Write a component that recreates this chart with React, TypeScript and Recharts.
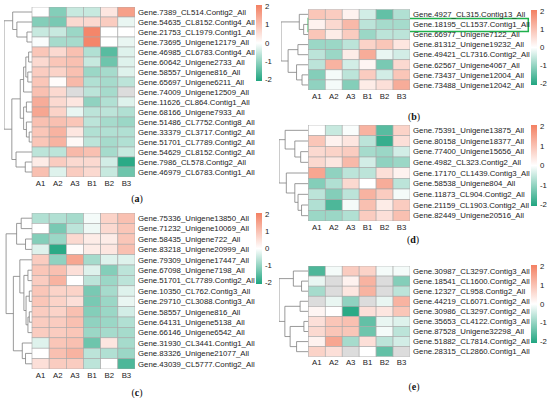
import React from "react";
import { ScatterChart, Scatter, XAxis, YAxis, ReferenceArea } from "recharts";

const samples = ["A1", "A2", "A3", "B1", "B2", "B3"];
const legendTicks = ["2", "1", "0", "-1", "-2"];

// (a)
const genesA = [
  "Gene.7389_CL514.Contig2_All", "Gene.54635_CL8152.Contig4_All", "Gene.21753_CL1979.Contig1_All",
  "Gene.73695_Unigene12179_All", "Gene.46985_CL6783.Contig4_All", "Gene.60642_Unigene2733_All",
  "Gene.58557_Unigene816_All", "Gene.65697_Unigene6211_All", "Gene.74009_Unigene12509_All",
  "Gene.11626_CL864.Contig1_All", "Gene.68166_Unigene7933_All", "Gene.51486_CL7752.Contig8_All",
  "Gene.33379_CL3717.Contig2_All", "Gene.51701_CL7789.Contig2_All", "Gene.54629_CL8152.Contig2_All",
  "Gene.7986_CL578.Contig2_All", "Gene.46979_CL6783.Contig1_All",
];
const valuesA = [
  [0.0, -1.1, -0.5, -0.5, 0.4, 1.5],
  [-1.1, -1.2, 0.6, 0.6, 0.8, -0.2],
  [-0.5, -0.5, -0.9, 1.9, 0.0, 0.0],
  [-0.05, -0.8, -0.8, 1.9, 0.0, -0.2],
  [0.9, 0.6, 1.0, -0.7, -1.5, -0.3],
  [0.6, 0.9, 1.0, -0.5, -1.3, -0.3],
  [0.8, 0.7, 1.0, -0.9, -0.8, -0.3],
  [0.9, 0.05, 1.1, -0.7, -0.8, -0.6],
  [1.0, 0.6, null, -0.6, -0.8, null],
  [1.3, 0.6, 0.4, -1.0, -0.7, -0.3],
  [1.4, 0.7, -0.2, -0.6, -0.6, -0.7],
  [1.0, 1.0, 0.9, -0.6, -0.8, -0.9],
  [0.9, 1.2, 0.4, -0.7, -0.7, -0.7],
  [0.9, 1.2, 0.1, -0.6, -0.8, -0.7],
  [-0.6, -0.6, 1.1, 1.0, -0.8, -0.5],
  [0.3, 0.8, 0.6, 0.6, -0.4, -1.9],
  [1.0, -0.3, 0.8, 0.6, -0.5, -1.3],
];
// hclust-style merges: negative = leaf (1-based row), positive = earlier merge; third = height
const mergeA = [
  [-3, -4, 0.18], [-2, 1, 0.54], [-1, 2, 0.69], [-5, -6, 0.12], [-7, -8, 0.15],
  [4, 5, 0.22], [6, -9, 0.3], [-10, -11, 0.2], [-13, -14, 0.1], [-12, 9, 0.2],
  [8, 10, 0.3], [7, 11, 0.42], [-16, -17, 0.24], [-15, 13, 0.57], [12, 14, 0.72], [3, 15, 1.0],
];

// (b)
const genesB = [
  "Gene.4927_CL315.Contig13_All", "Gene.18195_CL1537.Contig1_All", "Gene.66977_Unigene7122_All",
  "Gene.81312_Unigene19232_All", "Gene.49421_CL7316.Contig2_All", "Gene.62567_Unigene4067_All",
  "Gene.73437_Unigene12004_All", "Gene.73488_Unigene12042_All",
];
const valuesB = [
  [0.9, 0.8, 0.2, -0.4, -1.4, -0.7],
  [0.2, 0.6, 1.1, -0.6, -0.8, -0.8],
  [0.9, 0.3, 0.8, -0.9, -0.6, -0.6],
  [-0.9, -0.9, -0.6, 0.7, 0.9, 0.4],
  [-0.6, -0.9, 0.3, 1.3, -0.2, -0.4],
  [-0.6, 1.2, -0.4, 0.15, -1.2, 0.6],
  [-1.1, -0.1, -0.6, 0.8, -0.4, 0.9],
  [-1.0, -0.1, -1.1, 0.3, 0.5, 1.3],
];
const mergeB = [
  [-2, -3, 0.17], [-1, 1, 0.33], [-4, -5, 0.38], [-7, -8, 0.23], [-6, 4, 0.43], [3, 5, 0.74], [2, 6, 1.0],
];

// (c)
const genesC = [
  "Gene.75336_Unigene13850_All", "Gene.71232_Unigene10069_All", "Gene.58435_Unigene722_All",
  "Gene.83218_Unigene20999_All", "Gene.79309_Unigene17447_All", "Gene.67098_Unigene7198_All",
  "Gene.51701_CL7789.Contig2_All", "Gene.10350_CL762.Contig3_All", "Gene.29710_CL3088.Contig3_All",
  "Gene.58557_Unigene816_All", "Gene.64131_Unigene5138_All", "Gene.66146_Unigene6542_All",
  "Gene.31930_CL3441.Contig1_All", "Gene.83326_Unigene21077_All", "Gene.43039_CL5777.Contig2_All",
];
const valuesC = [
  [-0.7, -0.7, -0.8, -0.1, 0.7, 1.0],
  [0.0, -1.2, -0.6, -0.15, 0.6, 0.9],
  [-1.1, -0.9, 0.6, 0.3, 0.3, 0.9],
  [-0.3, -1.9, 0.05, 0.3, 0.4, 1.0],
  [0.8, -1.0, 1.4, -0.8, -0.3, -0.3],
  [0.9, 1.0, 0.5, -0.3, -1.1, -0.6],
  [0.8, 1.2, 0.0, -0.6, -0.9, -0.6],
  [0.9, 0.7, 0.7, -1.2, -0.8, -0.3],
  [0.9, 0.7, 0.5, -1.2, -0.9, -0.2],
  [0.8, 0.7, 1.0, -1.1, -0.9, -0.4],
  [0.8, 0.8, 1.0, -1.0, -0.9, -0.7],
  [0.8, 0.8, 0.9, -0.9, -0.8, -0.8],
  [-0.3, 0.9, 1.0, -1.3, 0.4, -0.8],
  [0.0, 1.0, 1.2, -0.6, -0.7, -0.9],
  [0.5, 0.8, 0.8, -0.6, 0.0, -1.6],
];
const mergeC = [
  [-1, -2, 0.4], [-3, -4, 0.24], [1, 2, 0.57], [-6, -7, 0.15], [-8, -9, 0.1],
  [-10, -11, 0.1], [6, -12, 0.15], [5, 7, 0.22], [4, 8, 0.3], [-5, 9, 0.45],
  [-14, -15, 0.24], [-13, 11, 0.36], [10, 12, 0.69], [3, 13, 0.96],
];

// (d)
const genesD = [
  "Gene.75391_Unigene13875_All", "Gene.80158_Unigene18377_All", "Gene.77400_Unigene15656_All",
  "Gene.4982_CL323.Contig2_All", "Gene.17170_CL1439.Contig3_All", "Gene.58538_Unigene804_All",
  "Gene.11873_CL904.Contig2_All", "Gene.21159_CL1903.Contig2_All", "Gene.82449_Unigene20516_All",
];
const valuesD = [
  [0.0, -0.5, -0.05, 1.2, -1.5, 0.7],
  [0.9, 0.2, 0.4, -0.6, -1.8, 0.5],
  [0.6, 0.7, 0.8, -0.8, -0.9, -0.4],
  [0.6, 0.4, 1.1, -0.4, -1.0, -0.9],
  [1.4, -1.0, -0.6, -0.6, 0.5, 0.2],
  [-1.1, -0.7, 0.6, 0.0, 1.3, -0.6],
  [-0.6, -1.1, -0.6, 1.2, 0.8, -0.1],
  [-0.7, -1.6, -0.1, 1.0, 0.3, 0.8],
  [-0.9, -0.9, -0.7, 0.8, 0.5, 1.0],
];
const mergeD = [
  [-3, -4, 0.26], [-2, 1, 0.46], [-1, 2, 0.79], [-8, -9, 0.23], [-7, 4, 0.35],
  [-6, 5, 0.46], [-5, 6, 0.75], [3, 7, 1.0],
];

// (e)
const genesE = [
  "Gene.30987_CL3297.Contig3_All", "Gene.18541_CL1600.Contig2_All", "Gene.12327_CL958.Contig2_All",
  "Gene.44219_CL6071.Contig2_All", "Gene.30986_CL3297.Contig2_All", "Gene.35653_CL4122.Contig3_All",
  "Gene.87528_Unigene32298_All", "Gene.51882_CL7814.Contig2_All", "Gene.28315_CL2860.Contig1_All",
];
const valuesE = [
  [-1.6, -0.1, 0.8, 0.7, -0.1, -0.1],
  [-0.2, null, 0.2, 1.2, null, -1.1],
  [-0.8, null, 0.4, 1.2, null, -0.6],
  [null, -0.2, -1.0, null, -0.2, 1.2],
  [0.15, 0.0, -1.9, 0.5, 0.4, 0.9],
  [0.5, 0.9, 1.0, -1.4, -0.2, -0.3],
  [0.6, 0.9, 0.9, -1.3, -0.1, -0.6],
  [0.2, 1.4, -0.8, 0.5, -0.6, -0.4],
  [0.7, 0.5, null, 0.0, -1.4, null],
];
const mergeE = [
  [-2, -3, 0.23], [-1, 1, 0.51], [-4, -5, 0.28], [-6, -7, 0.15], [-8, -9, 0.4],
  [4, 5, 0.62], [3, 6, 0.8], [2, 7, 1.0],
];

const W = 550;
const H = 398;
const Y_AXIS_W = 130;
const X_AXIS_H = 20;
const FONT = "'Liberation Sans', Arial, sans-serif";
const LABEL_SIZE = 7.8;

const panels = [
  { tag: "a", genes: genesA, values: valuesA, merge: mergeA, rootX: 4, cellL: 32, cellR: 135, top: 7, bottom: 177,
    bar: { x: 256, y1: 5, y2: 81 }, label: { x: 137, y: 202 } },
  { tag: "c", genes: genesC, values: valuesC, merge: mergeC, rootX: 5, cellL: 32, cellR: 135, top: 213, bottom: 369,
    bar: { x: 256, y1: 213, y2: 284 }, label: { x: 137, y: 396 } },
  { tag: "b", genes: genesB, values: valuesB, merge: mergeB, rootX: 281, cellL: 308.3, cellR: 410, top: 9.3, bottom: 90,
    bar: { x: 531, y1: 10, y2: 85 }, label: { x: 414, y: 120 }, highlight: 1 },
  { tag: "d", genes: genesD, values: valuesD, merge: mergeD, rootX: 279, cellL: 308.3, cellR: 410, top: 125, bottom: 221,
    bar: { x: 531, y1: 125, y2: 206 }, label: { x: 413, y: 243 } },
  { tag: "e", genes: genesE, values: valuesE, merge: mergeE, rootX: 279, cellL: 308.3, cellR: 410, top: 266, bottom: 356.7,
    bar: { x: 531, y1: 265, y2: 343 }, label: { x: 414, y: 390 } },
];

const LOW = [32, 165, 128];
const HIGH = [243, 128, 98];

function colorFor(v: number | null) {
  if (v === null) return "#dcdcdc";
  const t = Math.max(-2, Math.min(2, v)) / 2;
  const end = t < 0 ? LOW : HIGH;
  const a = Math.abs(t);
  const c = end.map((e) => Math.round(255 + (e - 255) * a));
  return `rgb(${c[0]},${c[1]},${c[2]})`;
}

// turn merges into U-shaped polylines, in axis units (x: negative = tree side)
function dendroLines(merge: number[][], treeW: number) {
  const nodes: { y: number; h: number }[] = [];
  const get = (ref: number) => (ref < 0 ? { y: -ref - 0.5, h: 0 } : nodes[ref - 1]);
  const lines: { x: number; y: number }[][] = [];
  merge.forEach(([a, b, h]) => {
    const na = get(a);
    const nb = get(b);
    lines.push([
      { x: -na.h * treeW, y: na.y },
      { x: -h * treeW, y: na.y },
      { x: -h * treeW, y: nb.y },
      { x: -nb.h * treeW, y: nb.y },
    ]);
    nodes.push({ y: (na.y + nb.y) / 2, h });
  });
  return lines;
}

function Heatmap({ p }: { p: any }) {
  const n = p.genes.length;
  const colW = (p.cellR - p.cellL) / samples.length;
  const rowH = (p.bottom - p.top) / n;
  const treeW = (p.cellL - p.rootX) / colW;
  const cells: { x: number; y: number; v: number | null }[] = [];
  p.values.forEach((row: (number | null)[], r: number) =>
    row.forEach((v, c) => cells.push({ x: c + 0.5, y: r + 0.5, v }))
  );
  const lines = dendroLines(p.merge, treeW);
  const xTicks = samples.map((_, i) => i + 0.5);
  const yTicks = p.genes.map((_: string, i: number) => i + 0.5);

  return (
    <div style={{ position: "absolute", left: 0, top: 0 }}>
      <ScatterChart
        width={W}
        height={H}
        margin={{ left: p.rootX, right: W - p.cellR - Y_AXIS_W, top: p.top, bottom: H - p.bottom - X_AXIS_H }}
      >
        <XAxis
          type="number"
          dataKey="x"
          domain={[-treeW, samples.length]}
          allowDataOverflow
          ticks={xTicks}
          interval={0}
          tickFormatter={(t) => samples[Math.floor(t)]}
          axisLine={false}
          tickLine={false}
          tickSize={0}
          tickMargin={3}
          height={X_AXIS_H}
          tick={{ fontSize: LABEL_SIZE, fill: "#222", fontFamily: FONT }}
        />
        <YAxis
          type="number"
          dataKey="y"
          orientation="right"
          domain={[0, n]}
          reversed
          allowDataOverflow
          ticks={yTicks}
          interval={0}
          tickFormatter={(t) => p.genes[Math.floor(t)]}
          axisLine={false}
          tickLine={false}
          tickSize={0}
          tickMargin={3}
          width={Y_AXIS_W}
          tick={{ fontSize: LABEL_SIZE, fill: "#222", fontFamily: FONT, textAnchor: "start" }}
        />
        {lines.map((pts, i) => (
          <Scatter
            key={`tree-${i}`}
            data={pts}
            line={{ stroke: "#808080", strokeWidth: 0.8 }}
            shape={() => <g />}
            isAnimationActive={false}
          />
        ))}
        <Scatter
          data={cells}
          isAnimationActive={false}
          shape={(s: any) => (
            <rect
              x={s.cx - colW / 2}
              y={s.cy - rowH / 2}
              width={colW}
              height={rowH}
              fill={colorFor(s.payload.v)}
              stroke="#a8a8a8"
              strokeWidth={0.6}
            />
          )}
        />
        {p.highlight !== undefined && (
          <ReferenceArea
            x1={0}
            x2={(528.3 - p.cellL) / colW}
            y1={p.highlight - 0.1}
            y2={p.highlight + 1.2}
            fill="none"
            fillOpacity={0}
            stroke="#1fb04c"
            strokeWidth={1.5}
            ifOverflow="visible"
          />
        )}
      </ScatterChart>
    </div>
  );
}

function Overlay() {
  return (
    <svg width={W} height={H} style={{ position: "absolute", left: 0, top: 0, pointerEvents: "none" }}>
      <defs>
        <linearGradient id="scale" x1="0" y1="0" x2="0" y2="1">
          <stop offset="0%" stopColor={colorFor(2)} />
          <stop offset="50%" stopColor="#ffffff" />
          <stop offset="100%" stopColor={colorFor(-2)} />
        </linearGradient>
      </defs>
      {panels.map((p) => (
        <g key={p.tag}>
          <rect x={p.bar.x} y={p.bar.y1} width={6} height={p.bar.y2 - p.bar.y1} fill="url(#scale)" />
          {legendTicks.map((t, i) => (
            <text
              key={t}
              x={p.bar.x + 9}
              y={p.bar.y1 + 1.5 + (i * (p.bar.y2 - p.bar.y1 - 3)) / (legendTicks.length - 1)}
              dy="0.35em"
              fontSize={LABEL_SIZE}
              fill="#222"
              fontFamily={FONT}
            >
              {t}
            </text>
          ))}
          <text x={p.label.x} y={p.label.y} textAnchor="middle" fontSize={10} fill="#111" fontFamily="'Liberation Serif', 'Times New Roman', serif">
            (<tspan fontWeight="bold">{p.tag}</tspan>)
          </text>
        </g>
      ))}
    </svg>
  );
}

export default function App() {
  return (
    <div style={{ position: "absolute", left: 0, top: 0, width: W, height: H, background: "#fff" }}>
      {panels.map((p) => (
        <Heatmap key={p.tag} p={p} />
      ))}
      <Overlay />
    </div>
  );
}
